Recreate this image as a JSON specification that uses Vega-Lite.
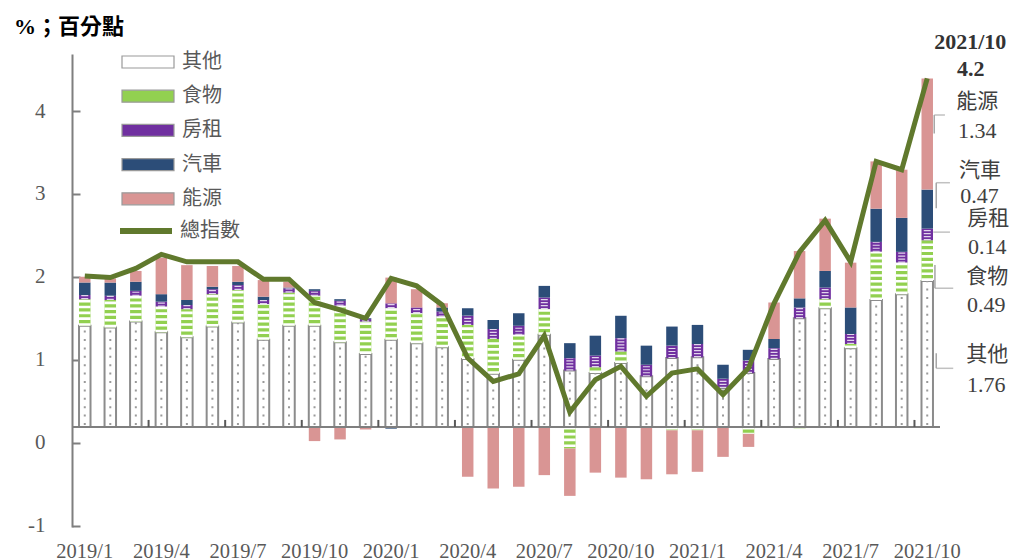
{
  "$schema": "https://vega.github.io/schema/vega-lite/v6.json",
  "width": 868,
  "height": 473,
  "autosize": {"type": "none"},
  "padding": {"left": 72, "top": 54, "right": 74, "bottom": 33},
  "background": "#ffffff",
  "config": {
    "view": {"stroke": null},
    "font": "Liberation Serif, Noto Sans CJK TC",
    "scale": {"bandPaddingInner": 0.55, "bandPaddingOuter": 0.275}
  },
  "title": {
    "text": "%；百分點",
    "anchor": "start",
    "frame": "group",
    "dx": -58,
    "offset": -8,
    "font": "Liberation Serif, Noto Sans CJK TC",
    "fontSize": 22,
    "fontWeight": "bold",
    "color": "#000000"
  },
  "data": {
    "values": [
      {"month": "2019/1", "其他": 1.22, "食物": 0.32, "房租": 0.05, "汽車": 0.15, "能源": 0.07, "總指數": 1.82},
      {"month": "2019/2", "其他": 1.20, "食物": 0.33, "房租": 0.05, "汽車": 0.16, "能源": 0.05, "總指數": 1.80},
      {"month": "2019/3", "其他": 1.27, "食物": 0.31, "房租": 0.06, "汽車": 0.11, "能源": 0.13, "總指數": 1.91},
      {"month": "2019/4", "其他": 1.14, "食物": 0.31, "房租": 0.06, "汽車": 0.09, "能源": 0.44, "總指數": 2.08},
      {"month": "2019/5", "其他": 1.08, "食物": 0.34, "房租": 0.05, "汽車": 0.06, "能源": 0.42, "總指數": 1.99},
      {"month": "2019/6", "其他": 1.21, "食物": 0.39, "房租": 0.06, "汽車": 0.03, "能源": 0.25, "總指數": 1.99},
      {"month": "2019/7", "其他": 1.26, "食物": 0.39, "房租": 0.06, "汽車": 0.04, "能源": 0.19, "總指數": 1.99},
      {"month": "2019/8", "其他": 1.05, "食物": 0.43, "房租": 0.05, "汽車": 0.04, "能源": 0.20, "總指數": 1.78},
      {"month": "2019/9", "其他": 1.22, "食物": 0.40, "房租": 0.05, "汽車": 0.01, "能源": 0.07, "總指數": 1.78},
      {"month": "2019/10", "其他": 1.22, "食物": 0.36, "房租": 0.06, "汽車": 0.02, "能源": -0.17, "總指數": 1.50},
      {"month": "2019/11", "其他": 1.02, "食物": 0.44, "房租": 0.06, "汽車": 0.02, "能源": -0.15, "總指數": 1.41},
      {"month": "2019/12", "其他": 0.88, "食物": 0.39, "房租": 0.03, "汽車": 0.01, "能源": -0.03, "總指數": 1.31},
      {"month": "2020/1", "其他": 1.05, "食物": 0.38, "房租": 0.06, "汽車": -0.02, "能源": 0.31, "總指數": 1.79},
      {"month": "2020/2", "其他": 1.01, "食物": 0.36, "房租": 0.07, "汽車": 0.00, "能源": 0.22, "總指數": 1.70},
      {"month": "2020/3", "其他": 0.96, "食物": 0.37, "房租": 0.06, "汽車": 0.05, "能源": 0.05, "總指數": 1.47},
      {"month": "2020/4", "其他": 0.82, "食物": 0.41, "房租": 0.11, "汽車": 0.09, "能源": -0.60, "總指數": 0.83},
      {"month": "2020/5", "其他": 0.64, "食物": 0.42, "房租": 0.12, "汽車": 0.11, "能源": -0.74, "總指數": 0.55},
      {"month": "2020/6", "其他": 0.81, "食物": 0.30, "房租": 0.11, "汽車": 0.15, "能源": -0.72, "總指數": 0.64},
      {"month": "2020/7", "其他": 1.11, "食物": 0.31, "房租": 0.14, "汽車": 0.14, "能源": -0.58, "總指數": 1.10},
      {"month": "2020/8", "其他": 0.68, "食物": -0.26, "房租": 0.15, "汽車": 0.18, "能源": -0.57, "總指數": 0.18},
      {"month": "2020/9", "其他": 0.65, "食物": 0.07, "房租": 0.14, "汽車": 0.24, "能源": -0.55, "總指數": 0.57},
      {"month": "2020/10", "其他": 0.77, "食物": 0.14, "房租": 0.16, "汽車": 0.27, "能源": -0.61, "總指數": 0.73},
      {"month": "2020/11", "其他": 0.61, "食物": 0.00, "房租": 0.14, "汽車": 0.23, "能源": -0.63, "總指數": 0.37},
      {"month": "2020/12", "其他": 0.83, "食物": -0.04, "房租": 0.15, "汽車": 0.23, "能源": -0.53, "總指數": 0.65},
      {"month": "2021/1", "其他": 0.84, "食物": -0.04, "房租": 0.16, "汽車": 0.23, "能源": -0.50, "總指數": 0.70},
      {"month": "2021/2", "其他": 0.47, "食物": 0.00, "房租": 0.11, "汽車": 0.17, "能源": -0.36, "總指數": 0.39},
      {"month": "2021/3", "其他": 0.65, "食物": -0.08, "房租": 0.15, "汽車": 0.13, "能源": -0.16, "總指數": 0.71},
      {"month": "2021/4", "其他": 0.82, "食物": 0.00, "房租": 0.13, "汽車": 0.11, "能源": 0.44, "總指數": 1.49},
      {"month": "2021/5", "其他": 1.31, "食物": -0.02, "房租": 0.13, "汽車": 0.11, "能源": 0.57, "總指數": 2.11},
      {"month": "2021/6", "其他": 1.43, "食物": 0.11, "房租": 0.14, "汽車": 0.20, "能源": 0.63, "總指數": 2.49},
      {"month": "2021/7", "其他": 0.95, "食物": 0.05, "房租": 0.12, "汽車": 0.32, "能源": 0.54, "總指數": 1.99},
      {"month": "2021/8", "其他": 1.53, "食物": 0.58, "房租": 0.12, "汽車": 0.40, "能源": 0.57, "總指數": 3.20},
      {"month": "2021/9", "其他": 1.60, "食物": 0.38, "房租": 0.13, "汽車": 0.41, "能源": 0.58, "總指數": 3.10},
      {"month": "2021/10", "其他": 1.76, "食物": 0.49, "房租": 0.14, "汽車": 0.47, "能源": 1.34, "總指數": 4.2}
    ]
  },
  "layer": [
    {
      "transform": [
        {"fold": ["其他", "食物", "房租", "汽車", "能源"], "as": ["series", "val"]},
        {"stack": "val", "groupby": ["month"], "as": ["v0", "v1"]}
      ],
      "layer": [
        {
          "mark": {"type": "bar", "strokeWidth": 2},
          "encoding": {
            "x": {
              "field": "month",
              "type": "ordinal",
              "title": null,
              "scale": {
                "domain": ["2019/1", "2019/2", "2019/3", "2019/4", "2019/5", "2019/6", "2019/7", "2019/8", "2019/9", "2019/10", "2019/11", "2019/12", "2020/1", "2020/2", "2020/3", "2020/4", "2020/5", "2020/6", "2020/7", "2020/8", "2020/9", "2020/10", "2020/11", "2020/12", "2021/1", "2021/2", "2021/3", "2021/4", "2021/5", "2021/6", "2021/7", "2021/8", "2021/9", "2021/10"]
              },
              "axis": {
                "values": ["2019/1", "2019/4", "2019/7", "2019/10", "2020/1", "2020/4", "2020/7", "2020/10", "2021/1", "2021/4", "2021/7", "2021/10"],
                "title": null,
                "domain": false,
                "ticks": false,
                "grid": false,
                "labelAngle": 0,
                "labelPadding": 14,
                "labelFont": "Liberation Serif",
                "labelFontSize": 20.5,
                "labelColor": "#595959",
                "labelOverlap": false
              }
            },
            "y": {
              "field": "v0",
              "type": "quantitative",
              "title": null,
              "scale": {"domain": [-1.205, 4.494], "nice": false, "zero": false},
              "axis": {
                "values": [-1, 0, 1, 2, 3, 4],
                "format": "d",
                "labelExpr": "'' + datum.value",
                "title": null,
                "grid": false,
                "tickOffset": 16,
                "domainColor": "#7f7f7f",
                "domainWidth": 2,
                "tickColor": "#7f7f7f",
                "tickWidth": 2,
                "tickSize": -8,
                "labelPadding": 35,
                "labelFont": "Liberation Serif",
                "labelFontSize": 21,
                "labelColor": "#595959",
                "labelOverlap": false,
                "labelBaseline": "middle"
              }
            },
            "y2": {"field": "v1"},
            "color": {
              "field": "series",
              "type": "nominal",
              "scale": {
                "domain": ["其他", "食物", "房租", "汽車", "能源"],
                "range": ["#ffffff", "#92d050", "#7030a0", "#2c4d78", "#d99594"]
              },
              "legend": {
                "title": null,
                "orient": "none",
                "legendX": 65,
                "legendY": -3,
                "padding": 0,
                "symbolSize": 400,
                "symbolType": "M-2.6,-0.6H2.6V0.6H-2.6Z",
                "symbolStrokeColor": "#9a9a9a",
                "symbolStrokeWidth": 1.2,
                "labelFont": "Liberation Serif, Noto Sans CJK TC",
                "labelFontSize": 20,
                "labelColor": "#595959",
                "labelOffset": 23,
                "rowPadding": 13.2
              }
            },
            "stroke": {"condition": {"test": "datum.series === '其他'", "value": "#8c8c8c"}, "value": "transparent"}
          }
        },
        {
          "transform": [{"filter": "datum.series === '其他'"}],
          "mark": {"type": "rule", "color": "#9a9a9a", "strokeWidth": 2, "strokeDash": [2, 6.4], "strokeDashOffset": -2},
          "encoding": {
            "x": {"field": "month", "type": "ordinal", "title": null},
            "y": {"field": "v0", "type": "quantitative", "title": null, "scale": {"domain": [-1.205, 4.494], "nice": false, "zero": false}},
            "y2": {"field": "v1"}
          }
        },
        {
          "transform": [{"filter": "datum.series === '食物'"}],
          "mark": {"type": "rule", "color": "#ffffff", "strokeWidth": 11.6, "strokeDash": [2.6, 3.2]},
          "encoding": {
            "x": {"field": "month", "type": "ordinal", "title": null},
            "y": {"field": "v0", "type": "quantitative", "title": null, "scale": {"domain": [-1.205, 4.494], "nice": false, "zero": false}},
            "y2": {"field": "v1"}
          }
        },
        {
          "transform": [{"filter": "datum.series === '房租'"}],
          "mark": {"type": "rule", "color": "#ffffff", "strokeWidth": 7, "strokeDash": [1.2, 1.8], "opacity": 0.8},
          "encoding": {
            "x": {"field": "month", "type": "ordinal", "title": null},
            "y": {"field": "v0", "type": "quantitative", "title": null, "scale": {"domain": [-1.205, 4.494], "nice": false, "zero": false}},
            "y2": {"field": "v1"}
          }
        },
        {
          "transform": [{"filter": "datum.month === '2021/10' && datum.series === '能源'"}],
          "encoding": {
            "x": {"field": "month", "type": "ordinal", "title": null},
            "y": {"field": "v1", "type": "quantitative", "title": null, "scale": {"domain": [-1.205, 4.494], "nice": false, "zero": false}}
          },
          "layer": [
            {"mark": {"type": "text", "font": "Liberation Serif, Noto Sans CJK TC", "fontSize": 21, "color": "#404040", "align": "center", "baseline": "middle", "dx": 50, "dy": 23.6}, "encoding": {"text": {"field": "series"}}},
            {"mark": {"type": "text", "font": "Liberation Serif", "fontSize": 22, "color": "#404040", "align": "center", "baseline": "middle", "dx": 50, "dy": 53}, "encoding": {"text": {"field": "val", "type": "quantitative", "format": ".2f"}}},
            {"mark": {"type": "rule", "color": "#a6a6a6", "strokeWidth": 1.5, "xOffset": 7, "yOffset": 55, "y2Offset": 36.6}, "encoding": {"y2": {"field": "v1"}}},
            {"mark": {"type": "tick", "color": "#a6a6a6", "thickness": 1.5, "size": 10.7, "xOffset": 12.35, "yOffset": 36.6}}
          ]
        },
        {
          "transform": [{"filter": "datum.month === '2021/10' && datum.series === '汽車'"}],
          "encoding": {
            "x": {"field": "month", "type": "ordinal", "title": null},
            "y": {"field": "v1", "type": "quantitative", "title": null, "scale": {"domain": [-1.205, 4.494], "nice": false, "zero": false}}
          },
          "layer": [
            {"mark": {"type": "text", "font": "Liberation Serif, Noto Sans CJK TC", "fontSize": 21, "color": "#404040", "align": "center", "baseline": "middle", "dx": 52.7, "dy": -18.5}, "encoding": {"text": {"field": "series"}}},
            {"mark": {"type": "text", "font": "Liberation Serif", "fontSize": 22, "color": "#404040", "align": "center", "baseline": "middle", "dx": 52.2, "dy": 6.4}, "encoding": {"text": {"field": "val", "type": "quantitative", "format": ".2f"}}},
            {"mark": {"type": "rule", "color": "#a6a6a6", "strokeWidth": 1.5, "xOffset": 9, "yOffset": 18.7, "y2Offset": -6.9}, "encoding": {"y2": {"field": "v1"}}},
            {"mark": {"type": "tick", "color": "#a6a6a6", "thickness": 1.5, "size": 13.7, "xOffset": 15.85, "yOffset": -6.9}}
          ]
        },
        {
          "transform": [{"filter": "datum.month === '2021/10' && datum.series === '房租'"}],
          "encoding": {
            "x": {"field": "month", "type": "ordinal", "title": null},
            "y": {"field": "v1", "type": "quantitative", "title": null, "scale": {"domain": [-1.205, 4.494], "nice": false, "zero": false}}
          },
          "layer": [
            {"mark": {"type": "text", "font": "Liberation Serif, Noto Sans CJK TC", "fontSize": 21, "color": "#404040", "align": "center", "baseline": "middle", "dx": 61, "dy": -9.2}, "encoding": {"text": {"field": "series"}}},
            {"mark": {"type": "text", "font": "Liberation Serif", "fontSize": 22, "color": "#404040", "align": "center", "baseline": "middle", "dx": 60, "dy": 18.6}, "encoding": {"text": {"field": "val", "type": "quantitative", "format": ".2f"}}},
            {"mark": {"type": "tick", "color": "#a6a6a6", "thickness": 1.5, "size": 16.7, "xOffset": 14.35, "yOffset": 3.5}}
          ]
        },
        {
          "transform": [{"filter": "datum.month === '2021/10' && datum.series === '食物'"}],
          "encoding": {
            "x": {"field": "month", "type": "ordinal", "title": null},
            "y": {"field": "v1", "type": "quantitative", "title": null, "scale": {"domain": [-1.205, 4.494], "nice": false, "zero": false}}
          },
          "layer": [
            {"mark": {"type": "text", "font": "Liberation Serif, Noto Sans CJK TC", "fontSize": 21, "color": "#404040", "align": "center", "baseline": "middle", "dx": 60, "dy": 36.4}, "encoding": {"text": {"field": "series"}}},
            {"mark": {"type": "text", "font": "Liberation Serif", "fontSize": 22, "color": "#404040", "align": "center", "baseline": "middle", "dx": 59, "dy": 64.75}, "encoding": {"text": {"field": "val", "type": "quantitative", "format": ".2f"}}},
            {"mark": {"type": "rule", "color": "#a6a6a6", "strokeWidth": 1.5, "xOffset": 7.7, "yOffset": 24.75, "y2Offset": 48}, "encoding": {"y2": {"field": "v1"}}},
            {"mark": {"type": "tick", "color": "#a6a6a6", "thickness": 1.5, "size": 18.3, "xOffset": 16.85, "yOffset": 48}}
          ]
        },
        {
          "transform": [{"filter": "datum.month === '2021/10' && datum.series === '其他'"}],
          "encoding": {
            "x": {"field": "month", "type": "ordinal", "title": null},
            "y": {"field": "v1", "type": "quantitative", "title": null, "scale": {"domain": [-1.205, 4.494], "nice": false, "zero": false}}
          },
          "layer": [
            {"mark": {"type": "text", "font": "Liberation Serif, Noto Sans CJK TC", "fontSize": 21, "color": "#404040", "align": "center", "baseline": "middle", "dx": 60, "dy": 74.1}, "encoding": {"text": {"field": "series"}}},
            {"mark": {"type": "text", "font": "Liberation Serif", "fontSize": 22, "color": "#404040", "align": "center", "baseline": "middle", "dx": 59, "dy": 104.1}, "encoding": {"text": {"field": "val", "type": "quantitative", "format": ".2f"}}},
            {"mark": {"type": "rule", "color": "#a6a6a6", "strokeWidth": 1.5, "xOffset": 9, "yOffset": 72.4, "y2Offset": 87.4}, "encoding": {"y2": {"field": "v1"}}},
            {"mark": {"type": "tick", "color": "#a6a6a6", "thickness": 1.5, "size": 17, "xOffset": 17.5, "yOffset": 87.4}}
          ]
        }
      ]
    },
    {
      "data": {"values": [{}]},
      "mark": {"type": "rule", "color": "#7f7f7f", "strokeWidth": 2},
      "encoding": {
        "y": {"datum": 0, "type": "quantitative", "title": null, "scale": {"domain": [-1.205, 4.494], "nice": false, "zero": false}}
      }
    },
    {
      "transform": [{"filter": {"field": "month", "oneOf": ["2019/4", "2019/7", "2019/10", "2020/1", "2020/4", "2020/7", "2020/10", "2021/1", "2021/4", "2021/7", "2021/10"]}}],
      "mark": {"type": "rule", "color": "#595959", "strokeWidth": 2, "xOffset": -12.77},
      "encoding": {
        "x": {"field": "month", "type": "ordinal", "title": null},
        "y": {"datum": 0, "type": "quantitative", "title": null, "scale": {"domain": [-1.205, 4.494], "nice": false, "zero": false}},
        "y2": {"datum": 0.085}
      }
    },
    {
      "transform": [{"fold": ["總指數"], "as": ["series", "val"]}],
      "mark": {"type": "line", "strokeWidth": 5, "strokeJoin": "miter", "strokeCap": "butt"},
      "encoding": {
        "x": {"field": "month", "type": "ordinal", "title": null},
        "y": {"field": "val", "type": "quantitative", "title": null, "scale": {"domain": [-1.205, 4.494], "nice": false, "zero": false}},
        "stroke": {
          "field": "series",
          "type": "nominal",
          "scale": {"domain": ["總指數"], "range": ["#60792d"]},
          "legend": {
            "title": null,
            "orient": "none",
            "legendX": 45,
            "legendY": 148,
            "padding": 0,
            "symbolType": "stroke",
            "symbolSize": 2704,
            "symbolStrokeWidth": 6,
            "labelFont": "Liberation Serif, Noto Sans CJK TC",
            "labelFontSize": 20,
            "labelColor": "#595959",
            "labelOffset": 5
          }
        }
      }
    },
    {
      "transform": [{"filter": "datum.month === '2021/10'"}],
      "encoding": {
        "x": {"field": "month", "type": "ordinal", "title": null},
        "y": {"field": "總指數", "type": "quantitative", "title": null, "scale": {"domain": [-1.205, 4.494], "nice": false, "zero": false}}
      },
      "layer": [
        {"mark": {"type": "text", "font": "Liberation Serif", "fontSize": 22, "fontWeight": "bold", "color": "#333333", "align": "center", "baseline": "middle", "dx": 43, "dy": -36}, "encoding": {"text": {"field": "month"}}},
        {"mark": {"type": "text", "font": "Liberation Serif", "fontSize": 22, "fontWeight": "bold", "color": "#333333", "align": "center", "baseline": "middle", "dx": 43.5, "dy": -9.5}, "encoding": {"text": {"field": "總指數", "type": "quantitative", "format": ".1f"}}}
      ]
    }
  ]
}
